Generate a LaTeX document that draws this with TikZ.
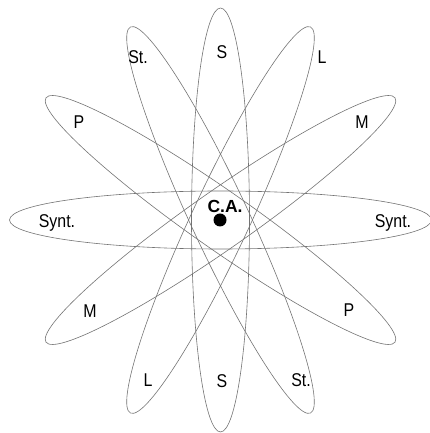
\documentclass[tikz,border=0pt]{standalone}
\usepackage{fontspec}
\setmainfont{Liberation Sans}
\newfontfamily\narrowlbl[FakeStretch=0.86]{Liberation Sans}

\begin{document}
\begin{tikzpicture}[
  x=1pt, y=1pt,
  orbit/.style={draw=black!55, line width=0.6pt},
  lbl/.style={font=\narrowlbl\fontsize{18.5}{18.5}\selectfont, inner sep=0pt},
  core/.style={font=\fontsize{17.5}{17.5}\selectfont\bfseries, inner sep=0pt},
  nucleus/.style={circle, fill=black, inner sep=0pt, minimum size=13pt}
]
\useasboundingbox (0,0) rectangle (430,433);

% ================= orbits =================
\coordinate (ctr) at (220.5,213);
\draw[orbit] (ctr) ellipse[x radius=211, y radius=29];
\draw[orbit, rotate around={35:(ctr)}] (ctr) ellipse[x radius=213, y radius=29];
\draw[orbit, rotate around={65:(ctr)}] (ctr) ellipse[x radius=213, y radius=29];
\draw[orbit] (ctr) ellipse[x radius=29, y radius=212];
\draw[orbit, rotate around={115:(ctr)}] (ctr) ellipse[x radius=213, y radius=29];
\draw[orbit, rotate around={145:(ctr)}] (ctr) ellipse[x radius=213, y radius=29];

% ================= centre =================
\node[nucleus] (ca) at (220,213) {};
\node[core] (calbl) at (225,227) {C.A.};

% ================= labels =================
\node[lbl] (syntw) at (57,210) {Synt.};
\node[lbl] (synte) at (393,210) {Synt.};
\node[lbl] (sn) at (222,381) {S};
\node[lbl] (ss) at (222,52) {S};
\node[lbl] (stn) at (138,376) {St.};
\node[lbl] (ln) at (322,376) {L};
\node[lbl] (pw) at (79,311) {P};
\node[lbl] (me) at (362,311) {M};
\node[lbl] (mw) at (90,122) {M};
\node[lbl] (pe) at (349,123) {P};
\node[lbl] (ls) at (148,53) {L};
\node[lbl] (sts) at (301,53) {St.};

\end{tikzpicture}
\end{document}
